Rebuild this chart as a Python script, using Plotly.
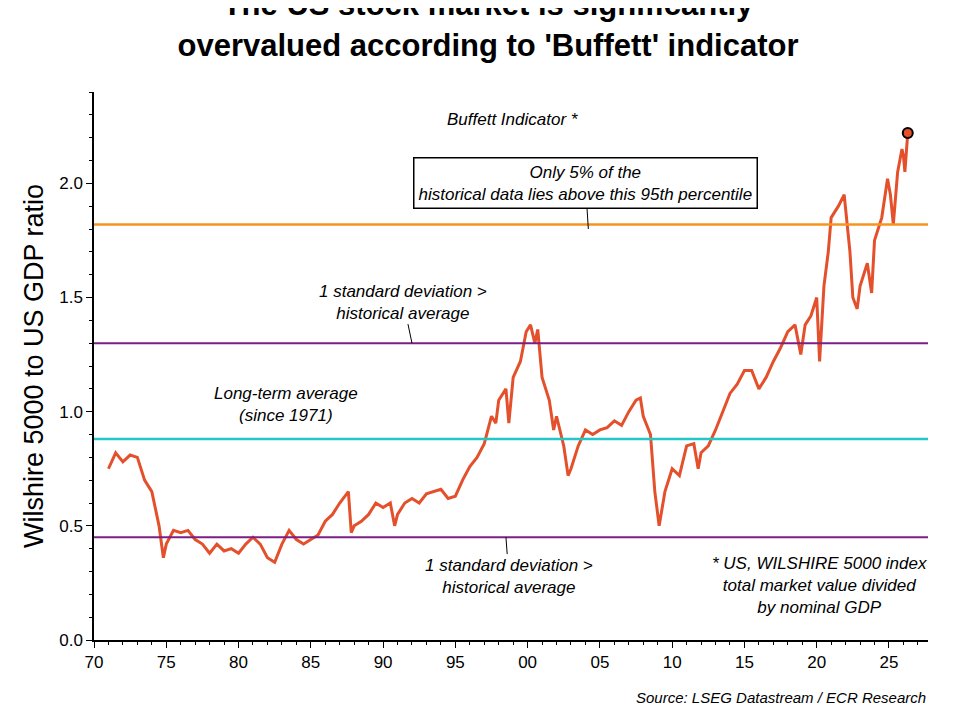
import plotly.graph_objects as go

years = [1971.0, 1971.5, 1972.0, 1972.5, 1973.0, 1973.5, 1974.0, 1974.5, 1974.8, 1975.0, 1975.5, 1976.0,
         1976.5, 1977.0, 1977.5, 1978.0, 1978.5, 1979.0, 1979.5, 1980.0, 1980.5, 1981.0, 1981.5, 1982.0,
         1982.5, 1983.0, 1983.5, 1984.0, 1984.5, 1985.0, 1985.5, 1986.0, 1986.5, 1987.0, 1987.6, 1987.8,
         1988.0, 1988.5, 1989.0, 1989.5, 1990.0, 1990.5, 1990.8, 1991.0, 1991.5, 1992.0, 1992.5, 1993.0,
         1993.5, 1994.0, 1994.5, 1995.0, 1995.5, 1996.0, 1996.5, 1997.0, 1997.5, 1997.8, 1998.0, 1998.5,
         1998.7, 1999.0, 1999.5, 1999.9, 2000.2, 2000.5, 2000.7, 2001.0, 2001.5, 2001.8, 2002.0, 2002.5,
         2002.8, 2003.0, 2003.5, 2004.0, 2004.5, 2005.0, 2005.5, 2006.0, 2006.5, 2007.0, 2007.5, 2007.8,
         2008.0, 2008.5, 2008.8, 2009.1, 2009.5, 2010.0, 2010.5, 2011.0, 2011.5, 2011.8, 2012.0, 2012.5,
         2013.0, 2013.5, 2014.0, 2014.5, 2015.0, 2015.5, 2016.0, 2016.5, 2017.0, 2017.5, 2018.0, 2018.5,
         2018.9, 2019.2, 2019.6, 2020.0, 2020.2, 2020.5, 2020.8, 2021.0, 2021.5, 2021.9, 2022.3, 2022.5,
         2022.8, 2023.0, 2023.5, 2023.8, 2024.0, 2024.5, 2024.9, 2025.1, 2025.3, 2025.6, 2025.9, 2026.0,
         2026.1, 2026.3]
ratio = [0.75, 0.82, 0.78, 0.81, 0.80, 0.70, 0.65, 0.50, 0.36, 0.42, 0.48, 0.47,
         0.48, 0.44, 0.42, 0.38, 0.42, 0.39, 0.40, 0.38, 0.42, 0.45, 0.42, 0.36,
         0.34, 0.42, 0.48, 0.44, 0.42, 0.44, 0.46, 0.52, 0.55, 0.60, 0.65, 0.47,
         0.50, 0.52, 0.55, 0.60, 0.58, 0.60, 0.50, 0.55, 0.60, 0.62, 0.60, 0.64,
         0.65, 0.66, 0.62, 0.63, 0.70, 0.76, 0.80, 0.86, 0.98, 0.95, 1.05, 1.10,
         0.95, 1.15, 1.22, 1.35, 1.38, 1.30, 1.36, 1.15, 1.05, 0.92, 0.98, 0.85,
         0.72, 0.75, 0.85, 0.92, 0.90, 0.92, 0.93, 0.96, 0.94, 1.00, 1.05, 1.06,
         0.98, 0.90, 0.65, 0.50, 0.65, 0.75, 0.72, 0.85, 0.86, 0.75, 0.82, 0.85,
         0.92, 1.00, 1.08, 1.12, 1.18, 1.18, 1.10, 1.15, 1.22, 1.28, 1.35, 1.38,
         1.25, 1.38, 1.42, 1.50, 1.22, 1.55, 1.70, 1.85, 1.90, 1.95, 1.70, 1.50,
         1.45, 1.55, 1.65, 1.52, 1.75, 1.85, 2.02, 1.95, 1.82, 2.05, 2.15, 2.12,
         2.05, 2.22]

p95 = 1.82
plus_sd = 1.30
avg = 0.88
minus_sd = 0.45

tick_years = [1970, 1975, 1980, 1985, 1990, 1995, 2000, 2005, 2010, 2015, 2020, 2025]
tick_labels = ["70", "75", "80", "85", "90", "95", "00", "05", "10", "15", "20", "25"]

fig = go.Figure()
for lvl, col in [(p95, "#F7941D"), (plus_sd, "#7B1F85"), (avg, "#22C7C7"), (minus_sd, "#7B1F85")]:
    fig.add_hline(y=lvl, line_color=col, line_width=2.5 if col != "#7B1F85" else 2)

fig.add_trace(go.Scatter(x=years, y=ratio, mode="lines", line=dict(color="#E4502B", width=3)))
fig.add_trace(go.Scatter(x=[years[-1]], y=[ratio[-1]], mode="markers",
                         marker=dict(color="#E4502B", size=10, line=dict(color="black", width=2))))

it = dict(family="Liberation Sans", size=17, color="black")
fig.add_annotation(x=1999, y=2.28, text="<i>Buffett Indicator *</i>", showarrow=False, font=it)
fig.add_annotation(x=2004.2, y=1.8, ax=2004, ay=2.0, axref="x", ayref="y",
                   text="<i>Only 5% of the<br>historical data lies above this 95th percentile</i>",
                   showarrow=True, arrowhead=0, arrowcolor="black", arrowwidth=1,
                   bordercolor="black", borderwidth=1.5, bgcolor="white", borderpad=4, font=it)
fig.add_annotation(x=1992, y=1.3, ax=1991.4, ay=1.48, axref="x", ayref="y",
                   text="<i>1 standard deviation ><br>historical average</i>",
                   showarrow=True, arrowhead=0, arrowcolor="black", arrowwidth=1, font=it)
fig.add_annotation(x=1983.3, y=1.03, text="<i>Long-term average<br>(since 1971)</i>",
                   showarrow=False, font=it)
fig.add_annotation(x=1998.5, y=0.45, ax=1998.7, ay=0.28, axref="x", ayref="y",
                   text="<i>1 standard deviation ><br>historical average</i>",
                   showarrow=True, arrowhead=0, arrowcolor="black", arrowwidth=1, font=it)
fig.add_annotation(x=2020.2, y=0.24, text="<i>* US, WILSHIRE 5000 index<br>total market value divided<br>by nominal GDP</i>",
                   showarrow=False, font=it)
fig.add_annotation(xref="paper", yref="paper", x=1.0, y=-0.085, xanchor="right", yanchor="top",
                   text="<i>Source: LSEG Datastream / ECR Research</i>", showarrow=False,
                   font=dict(family="Liberation Sans", size=15, color="black"))

fig.update_layout(
    width=960, height=720, showlegend=False,
    plot_bgcolor="white", paper_bgcolor="white",
    margin=dict(l=86, r=40, t=84, b=88),
    title=dict(text="<b>The US stock market is significantly<br>overvalued according to 'Buffett' indicator</b>",
               x=0.5, xanchor="center", y=0.99, yanchor="top",
               font=dict(family="Liberation Sans", size=31, color="black")),
    font=dict(family="Liberation Sans", size=17, color="black"),
)
fig.update_xaxes(range=[1970, 2027.7], tickvals=tick_years, ticktext=tick_labels,
                 showgrid=False, showline=True, linecolor="black", linewidth=1.5,
                 ticks="outside", ticklen=6, tickcolor="black",
                 minor=dict(dtick=1, ticks="outside", ticklen=3, tickcolor="black"), zeroline=False)
fig.update_yaxes(range=[0, 2.4], tickvals=[0, 0.5, 1.0, 1.5, 2.0],
                 ticktext=["0.0", "0.5", "1.0", "1.5", "2.0"],
                 title=dict(text="Wilshire 5000 to US GDP ratio", font=dict(size=27), standoff=8),
                 showgrid=False, showline=True, linecolor="black", linewidth=1.5,
                 ticks="outside", ticklen=6, tickcolor="black",
                 minor=dict(dtick=0.1, ticks="outside", ticklen=3, tickcolor="black"), zeroline=False)

fig.write_html("out.html")
